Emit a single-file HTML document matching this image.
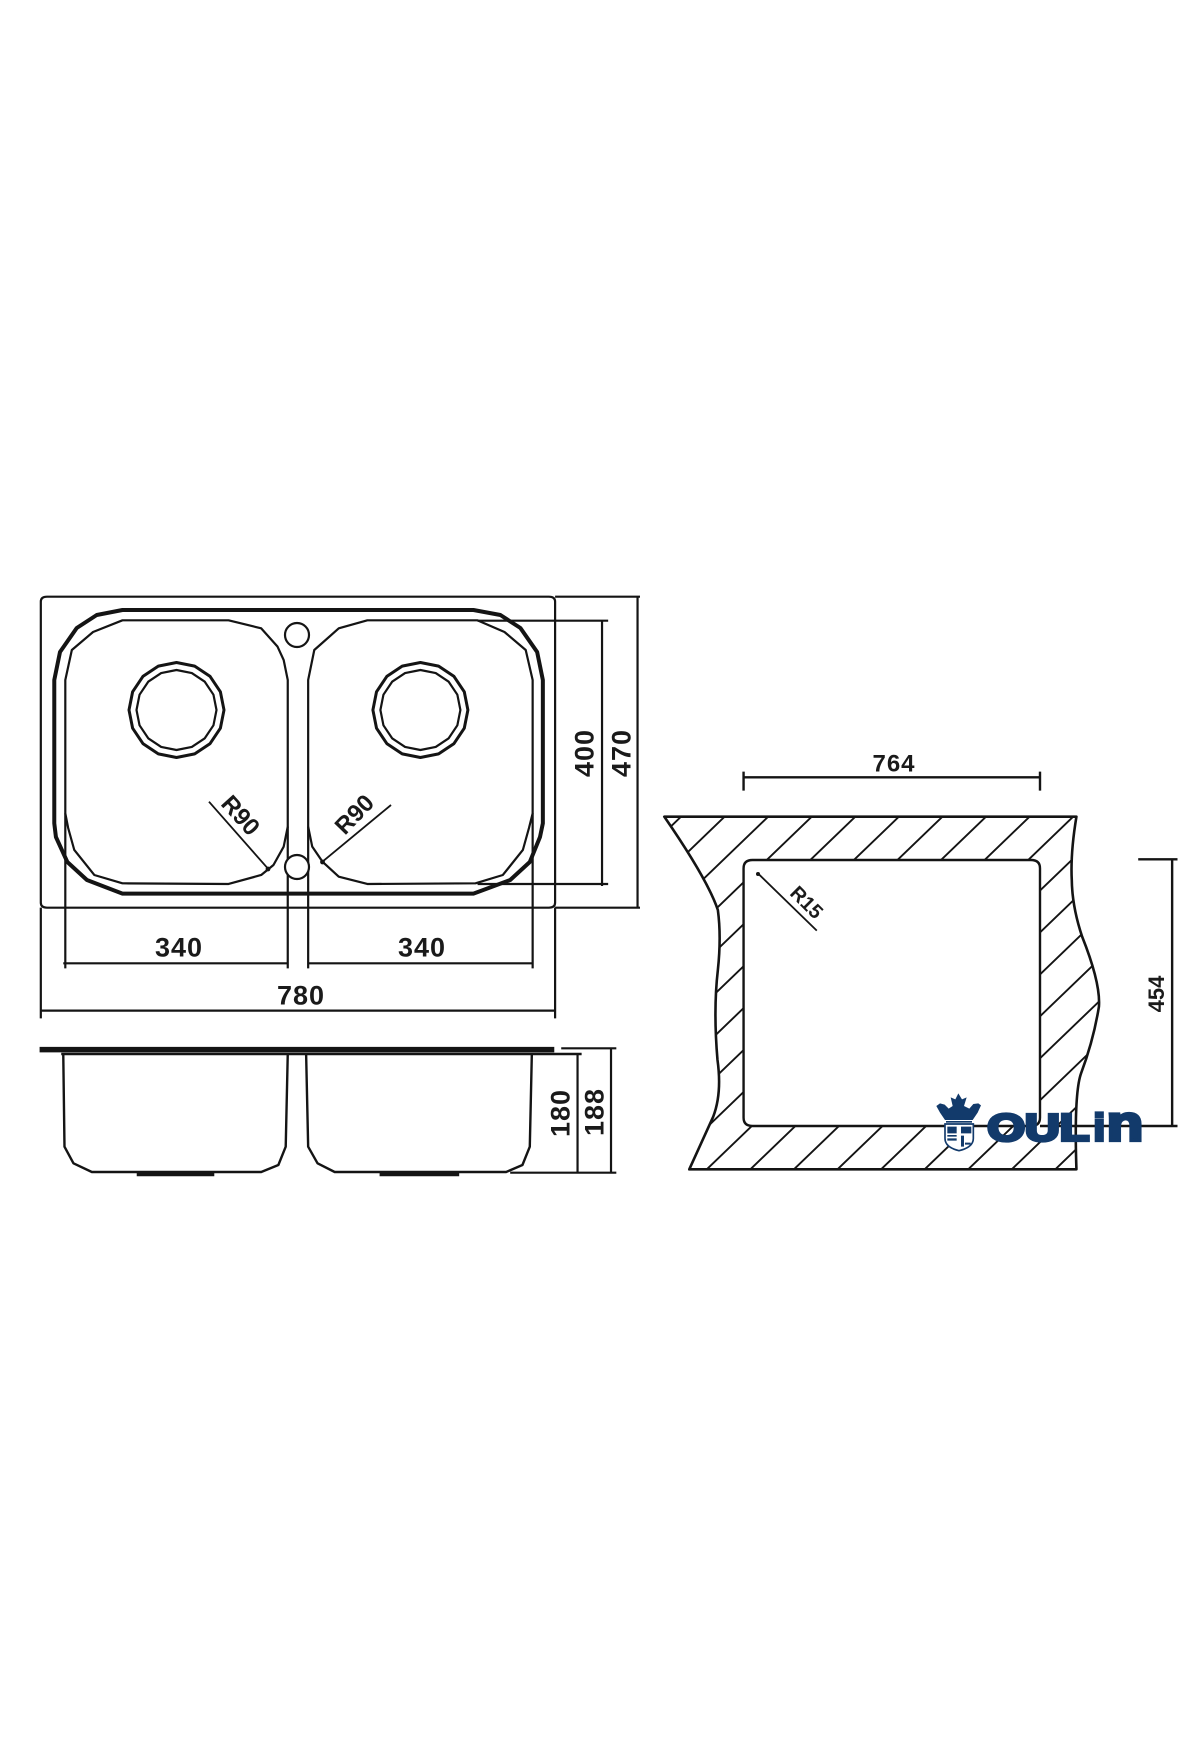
<!DOCTYPE html>
<html><head><meta charset="utf-8"><style>
html,body{margin:0;padding:0;background:#fff}
svg{display:block;filter:blur(.35px)}
.n{vector-effect:non-scaling-stroke;fill:none;stroke:#141414;stroke-linejoin:round}
text{font-family:"Liberation Sans",sans-serif;font-weight:bold;fill:#1a1a1a;text-anchor:middle}
</style></head><body>
<svg width="1200" height="1760" viewBox="0 0 1200 1760" xmlns="http://www.w3.org/2000/svg">
<defs>
<clipPath id="hc"><path clip-rule="evenodd" d="M68,290 L1222,290 Q1205,400 1209,480 Q1210,560 1238,650 Q1290,790 1285,860 Q1270,960 1235,1060 Q1215,1120 1222,1348 L138,1348 L205,1190 Q230,1120 217,1020 Q205,870 218,750 Q228,650 218,570 Q190,480 68,290 Z M290,420 L290,1218 1120,1218 1120,420 Z"/></clipPath>
</defs>

<!-- plan view -->
<g transform="translate(0,560) scale(.40816,.33333)">
<path class="n" stroke-width="2.2" d="M115,110 H1345 Q1360,110 1360,125 V1028 Q1360,1043 1345,1043 H115 Q100,1043 100,1028 V125 Q100,110 115,110 Z"/>
<polygon class="n" stroke-width="4" points="300,150 1160,150 1226,165 1275,204 1316,276 1330,360 1330,790 1323,831 1298,906 1250,960 1160,1001 300,1001 213,960 165,906 137,831 133,790 133,360 147,276 188,204 237,165"/>
<polygon class="n" stroke-width="2.2" points="300,181 560,181 640,205 680,260 695,300 705,360 705,800 695,860 670,915 640,945 560,972 300,970 231,945 182,870 167,804 160,760 160,360 176,270 228,216"/>
<polygon class="n" stroke-width="2.2" points="900,181 1170,181 1236,216 1288,270 1305,360 1305,760 1296,804 1281,870 1232,945 1165,970 900,972 830,950 790,905 765,860 755,800 755,360 770,270 830,205"/>
<path class="n" stroke-width="2.2" d="M160,760 V1225 M705,800 V1225 M755,800 V1225 M1305,760 V1225 M155,1210 H705 M755,1210 H1305"/>
<path class="n" stroke-width="2.2" d="M100,1043 V1375 M1360,1043 V1375 M100,1352 H1360"/>
<path class="n" stroke-width="2.2" d="M1170,182 H1490 M1170,972 H1490 M1475,180 V978"/>
<path class="n" stroke-width="2.2" d="M1360,110 H1568 M1360,1043 H1568 M1562,110 V1043"/>
<path class="n" stroke-width="1.8" d="M512,725 L658,928 M958,735 L790,905"/>
</g>
<circle cx="268" cy="869" r="2.4" fill="#141414"/>
<circle cx="322.5" cy="862" r="2.4" fill="#141414"/>
<circle class="n" stroke-width="2.2" cx="297" cy="635" r="12" style="fill:#fff"/>
<circle class="n" stroke-width="2.2" cx="297" cy="867" r="12" style="fill:#fff"/>
<polygon class="n" stroke-width="3" transform="translate(176.5,710) scale(47.5)" points="0,-1 .383,-.924 .707,-.707 .924,-.383 1,0 .924,.383 .707,.707 .383,.924 0,1 -.383,.924 -.707,.707 -.924,.383 -1,0 -.924,-.383 -.707,-.707 -.383,-.924"/>
<polygon class="n" stroke-width="2.2" transform="translate(176.5,710) scale(40)" points="0,-1 .383,-.924 .707,-.707 .924,-.383 1,0 .924,.383 .707,.707 .383,.924 0,1 -.383,.924 -.707,.707 -.924,.383 -1,0 -.924,-.383 -.707,-.707 -.383,-.924"/>
<polygon class="n" stroke-width="3" transform="translate(420.4,710) scale(47.5)" points="0,-1 .383,-.924 .707,-.707 .924,-.383 1,0 .924,.383 .707,.707 .383,.924 0,1 -.383,.924 -.707,.707 -.924,.383 -1,0 -.924,-.383 -.707,-.707 -.383,-.924"/>
<polygon class="n" stroke-width="2.2" transform="translate(420.4,710) scale(40)" points="0,-1 .383,-.924 .707,-.707 .924,-.383 1,0 .924,.383 .707,.707 .383,.924 0,1 -.383,.924 -.707,.707 -.924,.383 -1,0 -.924,-.383 -.707,-.707 -.383,-.924"/>

<g font-size="27" letter-spacing="1">
<text x="179" y="947" dy=".36em">340</text>
<text x="422" y="947" dy=".36em">340</text>
<text x="301" y="995" dy=".36em">780</text>
<text transform="translate(584,753) rotate(-90)" dy=".36em">400</text>
<text transform="translate(621,753) rotate(-90)" dy=".36em">470</text>
<text transform="translate(560,1113) rotate(-90)" dy=".36em">180</text>
<text transform="translate(594,1112) rotate(-90)" dy=".36em">188</text>
</g>
<g font-size="24">
<text transform="translate(241,815) rotate(48)" dy=".36em">R90</text>
<text transform="translate(354,814) rotate(-46)" dy=".36em">R90</text>
<text x="894" y="763" dy=".36em" letter-spacing="1">764</text>
</g>

<!-- side view -->
<g transform="translate(0,980) scale(.40816,.33333)">
<path class="n" stroke-width="5.5" d="M97,209 H1358"/>
<path class="n" stroke-width="2.4" d="M150,222 H1425"/>
<path class="n" stroke-width="2.4" d="M155,222 L158,500 180,550 225,576 640,576 682,555 700,500 705,222 M750,222 L755,500 778,550 820,576 1240,576 1280,555 1298,500 1303,222"/>
<path class="n" stroke-width="4.5" d="M335,582 H525 M930,582 H1125"/>
<path class="n" stroke-width="2.2" d="M1375,205 H1510 M1250,578 H1510 M1415,222 V578 M1497,205 V578"/>
</g>

<!-- cutout -->
<g transform="translate(640,720) scale(.35714,.33333)">
<path class="n" stroke-width="1.9" clip-path="url(#hc)" d="M113,292 L-911,1348 M235,292 L-789,1348 M357,292 L-667,1348 M479,292 L-545,1348 M601,292 L-423,1348 M723,292 L-301,1348 M845,292 L-179,1348 M967,292 L-57,1348 M1089,292 L65,1348 M1211,292 L187,1348 M1333,292 L309,1348 M1455,292 L431,1348 M1577,292 L553,1348 M1699,292 L675,1348 M1821,292 L797,1348 M1943,292 L919,1348 M2065,292 L1041,1348 M2187,292 L1163,1348 M2309,292 L1285,1348"/>
<path class="n" stroke-width="2.6" d="M68,290 L1222,290 Q1205,400 1209,480 Q1210,560 1238,650 Q1290,790 1285,860 Q1270,960 1235,1060 Q1215,1120 1222,1348 L138,1348 L205,1190 Q230,1120 217,1020 Q205,870 218,750 Q228,650 218,570 Q190,480 68,290 Z"/>
<path class="n" stroke-width="2.4" d="M315,420 H1095 Q1120,420 1120,445 V1193 Q1120,1218 1095,1218 H315 Q290,1218 290,1193 V445 Q290,420 315,420 Z"/>
<path class="n" stroke-width="2.4" d="M290,172 H1120 M290,155 V212 M1120,155 V212"/>
<path class="n" stroke-width="2.4" d="M1395,418 H1505 M1120,1218 H1505 M1490,418 V1218"/>
<path class="n" stroke-width="1.8" d="M330,460 L495,632"/>
</g>
<circle cx="758" cy="874" r="2" fill="#141414"/>
<text transform="translate(807,902) rotate(45)" dy=".36em" font-size="20">R15</text>
<text transform="translate(1156,994) rotate(-90)" dy=".36em" font-size="22">454</text>

<!-- logo -->
<g transform="translate(910,1070) scale(.33333)" fill="#123a6b">
<path d="M145,70 L156,88 170,82 162,108 178,116 190,102 205,100 213,106 203,128 188,150 105,150 90,128 79,108 90,100 104,104 116,116 128,108 122,82 136,88 Z"/>
<rect x="108" y="153" width="78" height="5"/>
<path d="M105,162 H190 V205 Q190,232 147,242 Q105,232 105,205 Z" fill="#fff" stroke="#123a6b" stroke-width="5"/>
<path d="M112,170 H140 V190 H112 Z M153,170 H184 V190 H153 Z M112,205 H140 V212 H112 Z M153,197 H162 V230 H153 Z M165,218 H182 V224 H165 Z M112,195 H140 V200 H112 Z"/>
<g style="stroke:#123a6b;stroke-width:10">
<text x="232" y="212" font-size="114" textLength="306" lengthAdjust="spacingAndGlyphs" style="text-anchor:start;fill:#123a6b">OUL</text>
<text x="551" y="212" font-size="114" textLength="34" lengthAdjust="spacingAndGlyphs" style="text-anchor:start;fill:#123a6b">i</text>
<text x="590" y="212" font-size="150" textLength="110" lengthAdjust="spacingAndGlyphs" style="text-anchor:start;fill:#123a6b">n</text>
</g>
</g>
</svg>
</body></html>
